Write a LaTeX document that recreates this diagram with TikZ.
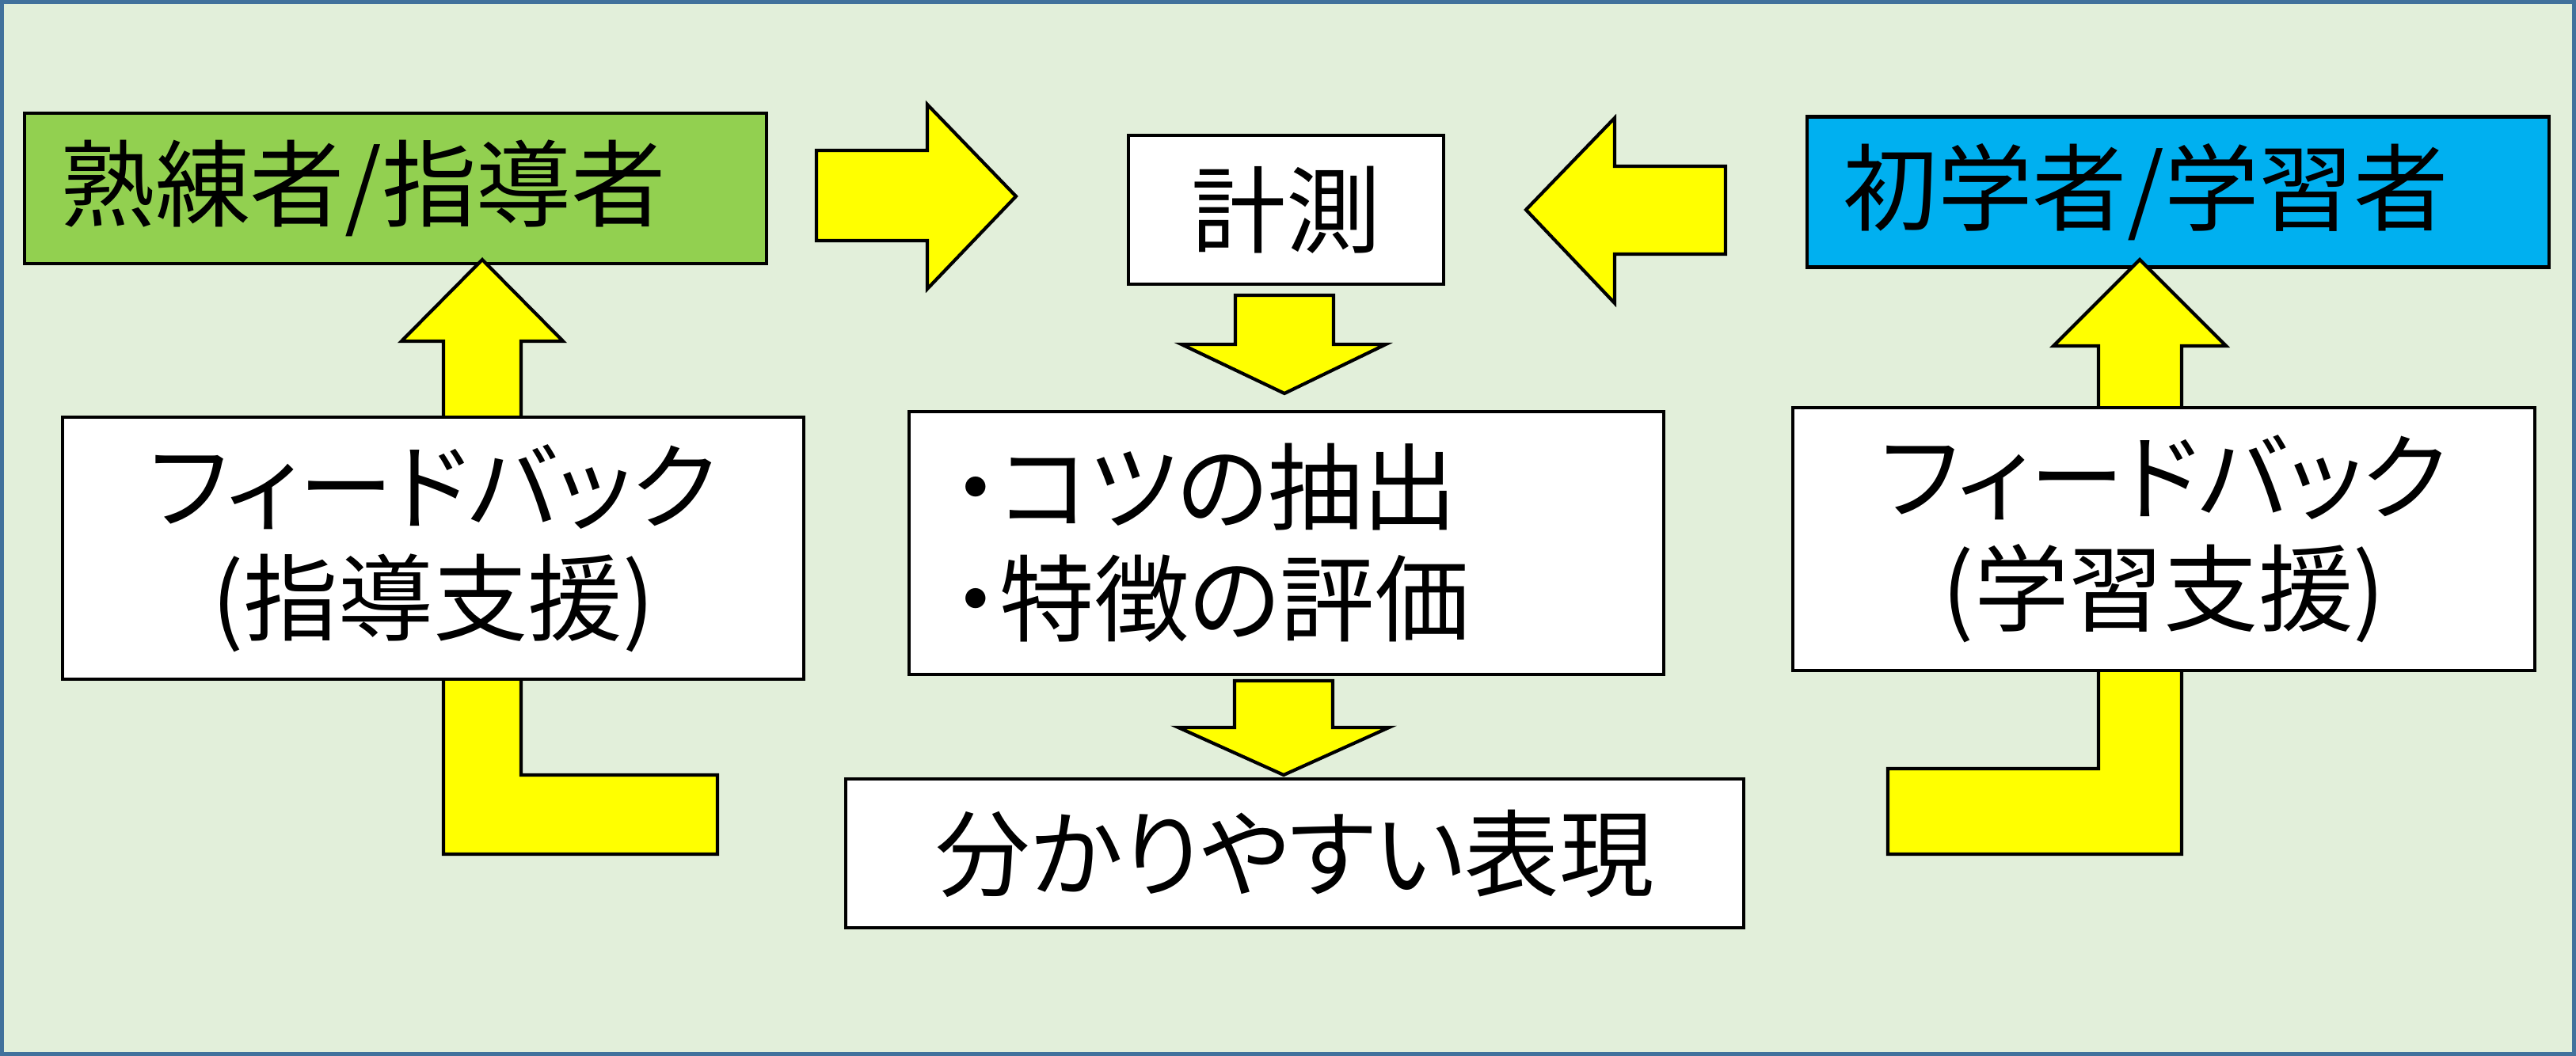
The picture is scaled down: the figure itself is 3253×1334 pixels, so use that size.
\documentclass[tikz,border=0pt]{standalone}
\usepackage{fontspec}
\setmainfont{Noto Sans CJK JP}[RawFeature=+palt]
\definecolor{bgback}{HTML}{E2EFDA}
\definecolor{frameblue}{HTML}{41719C}
\definecolor{expertgreen}{HTML}{92D050}
\definecolor{novicecyan}{HTML}{00B0F0}
\definecolor{arrowyellow}{HTML}{FFFF00}
\begin{document}
\begin{tikzpicture}[x=0.01cm, y=-0.01cm,
	box/.style={draw, line width=1.2pt, fill=white, inner sep=0pt, font=\fontsize{34pt}{40pt}\selectfont},
	titlebox/.style={box, minimum height=1.9cm, text width=8.45cm, inner xsep=0.46cm, align=left},
	fatarrow/.style={draw, line width=1.2pt, fill=arrowyellow, line join=miter}]
	\useasboundingbox (0,0) rectangle (3253,1334);
	\draw[frameblue, fill=bgback, line width=1.42pt] (2.5,2.5) rectangle (3250.5,1331.5);
	% top row
	\node[titlebox, fill=expertgreen] (expert) at (499.5,238) {熟練者/指導者};
	\node[titlebox, fill=novicecyan] (novice) at (2750.5,242.5) {初学者/学習者};
	\node[box, minimum width=3.98cm, minimum height=1.88cm] (meas) at (1624,265) {計測};
	% block arrows
	\draw[fatarrow] (1031,190) -- (1171,190) -- (1171,132) -- (1283,248) -- (1171,365) -- (1171,304) -- (1031,304) -- cycle;
	\draw[fatarrow] (2179,210) -- (2039,210) -- (2039,149) -- (1927,265) -- (2039,383) -- (2039,321) -- (2179,321) -- cycle;
	\draw[fatarrow] (1560,373) -- (1684,373) -- (1684,435) -- (1750,435) -- (1622,497) -- (1492,435) -- (1560,435) -- cycle;
	\draw[fatarrow] (1559,860) -- (1683,860) -- (1683,919) -- (1754,919) -- (1621,979) -- (1488,919) -- (1559,919) -- cycle;
	\draw[fatarrow] (906,979) -- (906,1079) -- (560,1079) -- (560,431) -- (507,431) -- (609,328) -- (711,431) -- (658,431) -- (658,979) -- cycle;
	\draw[fatarrow] (2384,971) -- (2384,1079) -- (2755,1079) -- (2755,437) -- (2811,437) -- (2702,328) -- (2593,437) -- (2650,437) -- (2650,971) -- cycle;
	% boxes below
	\node[box, minimum width=9.36cm, minimum height=3.31cm, align=center] (fbl) at (547,692.5) {フィードバック\\(指導支援)};
	\node[box, minimum width=9.37cm, minimum height=3.32cm, align=center] (fbr) at (2732.5,681) {フィードバック\\(学習支援)};
	\node[box, minimum height=3.32cm, text width=8.43cm, inner xsep=0.55cm, align=left] (extract) at (1624.5,686) {・コツの抽出\\・特徴の評価};
	\node[box, minimum width=11.34cm, minimum height=1.88cm] (expr) at (1635,1078) {分かりやすい表現};
\end{tikzpicture}
\end{document}
